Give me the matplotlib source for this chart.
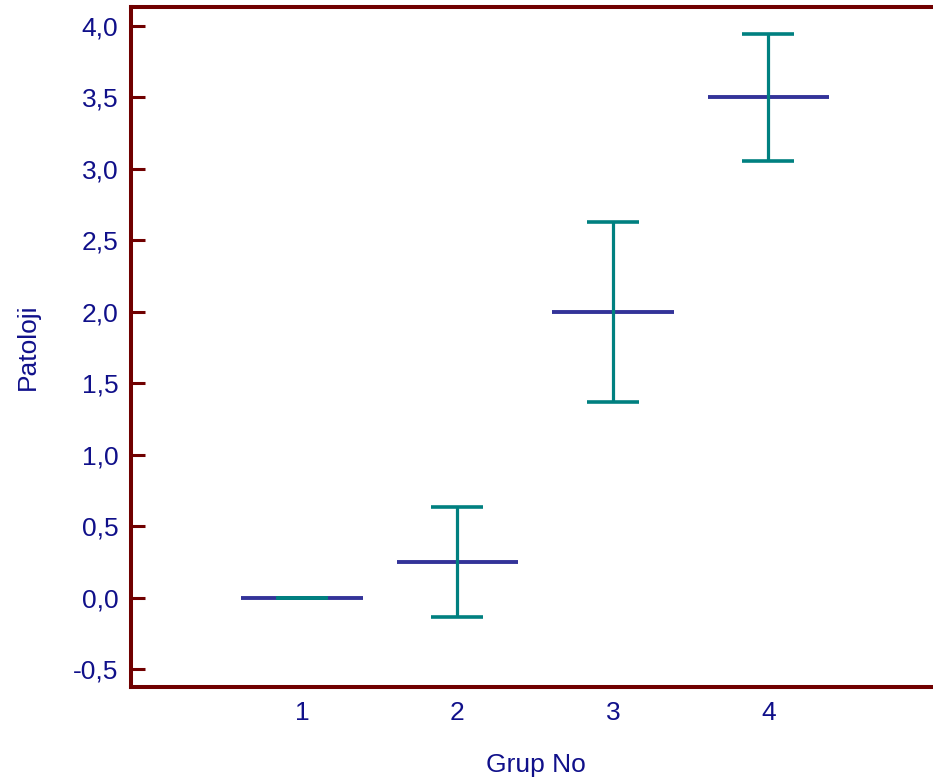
import matplotlib
matplotlib.use("Agg")
import matplotlib.pyplot as plt
from matplotlib.ticker import FuncFormatter

# data
groups = [1, 2, 3, 4]
means = [0.0, 0.25, 2.0, 3.5]
err_low = [0.0, 0.385, 0.635, 0.45]
err_high = [0.0, 0.385, 0.63, 0.44]
yticks = [-0.5, 0.0, 0.5, 1.0, 1.5, 2.0, 2.5, 3.0, 3.5, 4.0]

SPINE = "#700000"
NAVY = "#333399"
TEAL = "#008080"
TXT = "#10108a"
FS = 19

plt.rcParams["font.family"] = ["Liberation Sans", "DejaVu Sans"]

W, H = 933, 783
fig = plt.figure(figsize=(W / 100, H / 100), dpi=100)
ax = fig.add_axes([131 / W, 1 - 687 / H, 810 / W, 680 / H])

ax.hlines(means, [g - 0.39 for g in groups], [g + 0.39 for g in groups],
          colors=NAVY, lw=2.8, zorder=2)
ax.errorbar(groups, means, yerr=[err_low, err_high], fmt="none",
            ecolor=TEAL, elinewidth=2.3, capsize=19, capthick=2.6, zorder=3)

ax.set_xlim(-0.1, 5.11)
ax.set_ylim(-0.625, 4.13)
ax.set_xticks(groups)
ax.set_yticks(yticks)
ax.yaxis.set_major_formatter(FuncFormatter(lambda v, p: f"{v:.1f}".replace(".", ",")))

for s in ax.spines.values():
    s.set_color(SPINE)
    s.set_linewidth(2.9)
ax.spines["right"].set_visible(False)

ax.tick_params(axis="y", direction="in", length=10, width=2.2, color=SPINE,
               labelsize=FS, labelcolor=TXT, pad=9)
ax.tick_params(axis="x", length=0, labelsize=FS, labelcolor=TXT, pad=10)

ax.set_xlabel("Grup No", fontsize=FS, color=TXT, labelpad=20)
ax.set_ylabel("Patoloji", fontsize=FS, color=TXT, labelpad=24)

fig.savefig("out.png", dpi=100)
